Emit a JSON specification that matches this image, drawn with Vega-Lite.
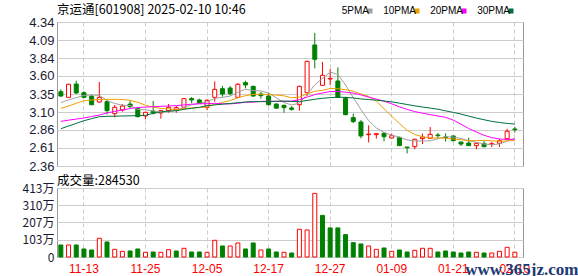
{
"$schema": "https://vega.github.io/schema/vega-lite/v6.json",
"padding": {"left": 0, "top": 3, "right": 0, "bottom": 0},
"background": "white",
"config": {
  "view": {"stroke": "#999999", "strokeWidth": 1},
  "axis": {"gridColor": "#cccccc", "gridWidth": 1, "domain": false, "ticks": false, "labelFont": "Liberation Sans", "labelOverlap": false},
  "title": {"font": "Noto Sans CJK SC", "fontWeight": "normal", "fontSize": 12.5, "color": "#000000", "anchor": "start", "frame": "group"}
},
"datasets": {"k": [
{"d":"11-08","o":3.382,"h":3.414,"l":3.313,"c":3.322,"v":720000,"k":"down","vc":"down","5PMA":3.23,"10PMA":3.153,"20PMA":2.974,"30PMA":2.873},
{"d":"11-11","o":3.304,"h":3.49,"l":3.295,"c":3.483,"v":720000,"k":"up","vc":"up","5PMA":3.27,"10PMA":3.185,"20PMA":2.99,"30PMA":2.91},
{"d":"11-12","o":3.487,"h":3.533,"l":3.35,"c":3.364,"v":720000,"k":"down","vc":"down","5PMA":3.30,"10PMA":3.222,"20PMA":3.005,"30PMA":2.946},
{"d":"11-13","o":3.368,"h":3.387,"l":3.29,"c":3.304,"v":480000,"k":"down","vc":"down","5PMA":3.33,"10PMA":3.258,"20PMA":3.02,"30PMA":2.983},
{"d":"11-14","o":3.318,"h":3.341,"l":3.194,"c":3.203,"v":420000,"k":"down","vc":"down","5PMA":3.335,"10PMA":3.268,"20PMA":3.04,"30PMA":3.011},
{"d":"11-15","o":3.24,"h":3.515,"l":3.231,"c":3.304,"v":1120000,"k":"up","vc":"up","5PMA":3.332,"10PMA":3.275,"20PMA":3.06,"30PMA":3.038},
{"d":"11-18","o":3.245,"h":3.268,"l":3.07,"c":3.121,"v":900000,"k":"down","vc":"down","5PMA":3.259,"10PMA":3.277,"20PMA":3.09,"30PMA":3.043},
{"d":"11-19","o":3.08,"h":3.199,"l":3.029,"c":3.167,"v":460000,"k":"up","vc":"up","5PMA":3.22,"10PMA":3.277,"20PMA":3.11,"30PMA":3.045},
{"d":"11-20","o":3.13,"h":3.212,"l":3.107,"c":3.185,"v":340000,"k":"up","vc":"up","5PMA":3.196,"10PMA":3.275,"20PMA":3.13,"30PMA":3.048},
{"d":"11-21","o":3.212,"h":3.254,"l":3.158,"c":3.176,"v":360000,"k":"down","vc":"down","5PMA":3.191,"10PMA":3.263,"20PMA":3.15,"30PMA":3.05},
{"d":"11-22","o":3.148,"h":3.167,"l":3.029,"c":3.038,"v":480000,"k":"down","vc":"down","5PMA":3.137,"10PMA":3.235,"20PMA":3.165,"30PMA":3.052},
{"d":"11-25","o":3.048,"h":3.107,"l":3.002,"c":3.098,"v":280000,"k":"up","vc":"up","5PMA":3.133,"10PMA":3.196,"20PMA":3.17,"30PMA":3.057},
{"d":"11-26","o":3.116,"h":3.254,"l":3.07,"c":3.089,"v":300000,"k":"down","vc":"down","5PMA":3.117,"10PMA":3.169,"20PMA":3.175,"30PMA":3.084},
{"d":"11-27","o":3.089,"h":3.13,"l":3.011,"c":3.121,"v":280000,"k":"up","vc":"up","5PMA":3.104,"10PMA":3.15,"20PMA":3.18,"30PMA":3.102},
{"d":"11-28","o":3.121,"h":3.212,"l":3.093,"c":3.167,"v":440000,"k":"up","vc":"up","5PMA":3.103,"10PMA":3.147,"20PMA":3.185,"30PMA":3.116},
{"d":"11-29","o":3.139,"h":3.185,"l":3.093,"c":3.162,"v":360000,"k":"up","vc":"down","5PMA":3.127,"10PMA":3.132,"20PMA":3.19,"30PMA":3.12},
{"d":"12-02","o":3.167,"h":3.295,"l":3.148,"c":3.286,"v":520000,"k":"up","vc":"up","5PMA":3.165,"10PMA":3.149,"20PMA":3.20,"30PMA":3.139},
{"d":"12-03","o":3.286,"h":3.309,"l":3.222,"c":3.268,"v":300000,"k":"down","vc":"down","5PMA":3.201,"10PMA":3.159,"20PMA":3.21,"30PMA":3.153},
{"d":"12-04","o":3.268,"h":3.286,"l":3.212,"c":3.222,"v":300000,"k":"down","vc":"down","5PMA":3.221,"10PMA":3.163,"20PMA":3.215,"30PMA":3.167},
{"d":"12-05","o":3.167,"h":3.277,"l":3.13,"c":3.263,"v":280000,"k":"up","vc":"up","5PMA":3.24,"10PMA":3.171,"20PMA":3.217,"30PMA":3.19},
{"d":"12-06","o":3.304,"h":3.524,"l":3.245,"c":3.414,"v":1000000,"k":"up","vc":"up","5PMA":3.291,"10PMA":3.209,"20PMA":3.222,"30PMA":3.20},
{"d":"12-09","o":3.423,"h":3.46,"l":3.313,"c":3.35,"v":660000,"k":"down","vc":"down","5PMA":3.303,"10PMA":3.234,"20PMA":3.215,"30PMA":3.21},
{"d":"12-10","o":3.432,"h":3.46,"l":3.332,"c":3.355,"v":660000,"k":"down","vc":"up","5PMA":3.321,"10PMA":3.261,"20PMA":3.214,"30PMA":3.22},
{"d":"12-11","o":3.304,"h":3.501,"l":3.295,"c":3.483,"v":840000,"k":"up","vc":"up","5PMA":3.373,"10PMA":3.297,"20PMA":3.223,"30PMA":3.23},
{"d":"12-12","o":3.506,"h":3.533,"l":3.428,"c":3.474,"v":480000,"k":"down","vc":"down","5PMA":3.415,"10PMA":3.328,"20PMA":3.237,"30PMA":3.24},
{"d":"12-13","o":3.455,"h":3.465,"l":3.313,"c":3.322,"v":840000,"k":"down","vc":"down","5PMA":3.397,"10PMA":3.344,"20PMA":3.238,"30PMA":3.245},
{"d":"12-16","o":3.35,"h":3.378,"l":3.286,"c":3.327,"v":420000,"k":"down","vc":"up","5PMA":3.392,"10PMA":3.348,"20PMA":3.248,"30PMA":3.245},
{"d":"12-17","o":3.322,"h":3.368,"l":3.19,"c":3.203,"v":480000,"k":"down","vc":"down","5PMA":3.362,"10PMA":3.342,"20PMA":3.25,"30PMA":3.245},
{"d":"12-18","o":3.212,"h":3.222,"l":3.15,"c":3.155,"v":300000,"k":"down","vc":"down","5PMA":3.297,"10PMA":3.335,"20PMA":3.249,"30PMA":3.25},
{"d":"12-19","o":3.194,"h":3.203,"l":3.093,"c":3.162,"v":280000,"k":"down","vc":"up","5PMA":3.233,"10PMA":3.325,"20PMA":3.248,"30PMA":3.253},
{"d":"12-20","o":3.158,"h":3.185,"l":3.121,"c":3.139,"v":240000,"k":"down","vc":"down","5PMA":3.199,"10PMA":3.297,"20PMA":3.253,"30PMA":3.247},
{"d":"12-23","o":3.203,"h":3.465,"l":3.121,"c":3.455,"v":1660000,"k":"up","vc":"up","5PMA":3.224,"10PMA":3.308,"20PMA":3.271,"30PMA":3.246},
{"d":"12-24","o":3.368,"h":3.808,"l":3.322,"c":3.799,"v":1620000,"k":"up","vc":"up","5PMA":3.343,"10PMA":3.352,"20PMA":3.307,"30PMA":3.261},
{"d":"12-25","o":4.024,"h":4.19,"l":3.703,"c":3.827,"v":3810000,"k":"down","vc":"up","5PMA":3.476,"10PMA":3.387,"20PMA":3.342,"30PMA":3.278},
{"d":"12-26","o":3.469,"h":3.79,"l":3.469,"c":3.607,"v":2490000,"k":"up","vc":"down","5PMA":3.565,"10PMA":3.40,"20PMA":3.364,"30PMA":3.291},
{"d":"12-27","o":3.556,"h":3.694,"l":3.474,"c":3.565,"v":1740000,"k":"up","vc":"down","5PMA":3.651,"10PMA":3.425,"20PMA":3.384,"30PMA":3.30},
{"d":"12-30","o":3.529,"h":3.717,"l":3.295,"c":3.304,"v":1740000,"k":"down","vc":"down","5PMA":3.62,"10PMA":3.422,"20PMA":3.385,"30PMA":3.306},
{"d":"12-31","o":3.29,"h":3.313,"l":3.057,"c":3.066,"v":1340000,"k":"down","vc":"down","5PMA":3.474,"10PMA":3.409,"20PMA":3.375,"30PMA":3.303},
{"d":"01-02","o":3.025,"h":3.08,"l":2.951,"c":2.97,"v":860000,"k":"down","vc":"down","5PMA":3.302,"10PMA":3.389,"20PMA":3.362,"30PMA":3.296},
{"d":"01-03","o":2.965,"h":2.993,"l":2.74,"c":2.773,"v":780000,"k":"down","vc":"down","5PMA":3.136,"10PMA":3.351,"20PMA":3.338,"30PMA":3.282},
{"d":"01-06","o":2.791,"h":2.919,"l":2.685,"c":2.8,"v":660000,"k":"up","vc":"up","5PMA":2.983,"10PMA":3.317,"20PMA":3.307,"30PMA":3.274},
{"d":"01-07","o":2.791,"h":2.809,"l":2.736,"c":2.805,"v":460000,"k":"up","vc":"up","5PMA":2.883,"10PMA":3.252,"20PMA":3.28,"30PMA":3.265},
{"d":"01-08","o":2.809,"h":2.827,"l":2.699,"c":2.763,"v":540000,"k":"down","vc":"down","5PMA":2.822,"10PMA":3.148,"20PMA":3.251,"30PMA":3.254},
{"d":"01-09","o":2.745,"h":2.809,"l":2.736,"c":2.777,"v":340000,"k":"up","vc":"up","5PMA":2.784,"10PMA":3.043,"20PMA":3.215,"30PMA":3.242},
{"d":"01-10","o":2.754,"h":2.763,"l":2.635,"c":2.64,"v":420000,"k":"down","vc":"down","5PMA":2.757,"10PMA":2.946,"20PMA":3.173,"30PMA":3.224},
{"d":"01-13","o":2.621,"h":2.621,"l":2.534,"c":2.612,"v":300000,"k":"down","vc":"down","5PMA":2.719,"10PMA":2.851,"20PMA":3.138,"30PMA":3.206},
{"d":"01-14","o":2.626,"h":2.736,"l":2.589,"c":2.727,"v":400000,"k":"up","vc":"up","5PMA":2.704,"10PMA":2.793,"20PMA":3.108,"30PMA":3.187},
{"d":"01-15","o":2.736,"h":2.805,"l":2.662,"c":2.759,"v":520000,"k":"up","vc":"up","5PMA":2.703,"10PMA":2.763,"20PMA":3.086,"30PMA":3.171},
{"d":"01-16","o":2.741,"h":2.896,"l":2.736,"c":2.795,"v":520000,"k":"up","vc":"up","5PMA":2.707,"10PMA":2.745,"20PMA":3.067,"30PMA":3.156},
{"d":"01-17","o":2.786,"h":2.814,"l":2.736,"c":2.777,"v":300000,"k":"down","vc":"down","5PMA":2.734,"10PMA":2.746,"20PMA":3.048,"30PMA":3.141},
{"d":"01-20","o":2.759,"h":2.809,"l":2.695,"c":2.75,"v":360000,"k":"down","vc":"down","5PMA":2.762,"10PMA":2.741,"20PMA":3.029,"30PMA":3.118},
{"d":"01-21","o":2.773,"h":2.777,"l":2.699,"c":2.708,"v":300000,"k":"down","vc":"down","5PMA":2.758,"10PMA":2.731,"20PMA":2.992,"30PMA":3.097},
{"d":"01-22","o":2.69,"h":2.69,"l":2.635,"c":2.662,"v":240000,"k":"down","vc":"down","5PMA":2.738,"10PMA":2.721,"20PMA":2.935,"30PMA":3.074},
{"d":"01-23","o":2.676,"h":2.75,"l":2.635,"c":2.64,"v":300000,"k":"down","vc":"down","5PMA":2.707,"10PMA":2.707,"20PMA":2.875,"30PMA":3.046},
{"d":"01-24","o":2.64,"h":2.685,"l":2.589,"c":2.672,"v":280000,"k":"up","vc":"up","5PMA":2.686,"10PMA":2.71,"20PMA":2.828,"30PMA":3.019},
{"d":"01-27","o":2.667,"h":2.708,"l":2.617,"c":2.626,"v":240000,"k":"down","vc":"down","5PMA":2.662,"10PMA":2.712,"20PMA":2.782,"30PMA":2.996},
{"d":"02-05","o":2.658,"h":2.69,"l":2.621,"c":2.667,"v":240000,"k":"up","vc":"up","5PMA":2.653,"10PMA":2.706,"20PMA":2.75,"30PMA":2.974},
{"d":"02-06","o":2.672,"h":2.731,"l":2.621,"c":2.708,"v":340000,"k":"up","vc":"up","5PMA":2.663,"10PMA":2.701,"20PMA":2.732,"30PMA":2.958},
{"d":"02-07","o":2.736,"h":2.873,"l":2.718,"c":2.837,"v":580000,"k":"up","vc":"up","5PMA":2.702,"10PMA":2.705,"20PMA":2.725,"30PMA":2.946},
{"d":"02-10","o":2.869,"h":2.901,"l":2.819,"c":2.86,"v":284530,"k":"down","vc":"up","5PMA":2.74,"10PMA":2.713,"20PMA":2.729,"30PMA":2.937}
]},
"resolve": {"scale": {"y": "independent"}},
"spacing": 0,
"vconcat": [
{
  "width": 466,
  "height": 144,
  "title": {"text": "京运通[601908] 2025-02-10 10:46", "offset": 0},
  "data": {"name": "k"},
  "layer": [
    {
      "mark": {"type": "rule", "strokeWidth": 1},
      "encoding": {
        "x": {"field": "d", "type": "ordinal", "sort": null, "bandPosition": 0.5,
              "scale": {"type": "band", "paddingInner": 0, "paddingOuter": 0.28, "align": 0},
              "axis": {"values": ["11-13","11-25","12-05","12-17","12-27","01-09","01-21","02-10"], "labels": false, "grid": true, "gridDash": [4, 3], "title": null, "minExtent": 0, "maxExtent": 0}},
        "y": {"field": "l", "type": "quantitative", "scale": {"domain": [2.36, 4.34], "zero": false, "nice": false},
              "axis": {"values": [2.36, 2.61, 2.86, 3.10, 3.35, 3.60, 3.84, 4.09, 4.34], "tickCount": 9, "format": ".2f", "grid": true, "labelFontSize": 13, "labelColor": "#1a1a33", "labelPadding": 3, "minExtent": 56, "maxExtent": 56, "title": null}},
        "y2": {"field": "h"},
        "stroke": {"field": "k", "type": "nominal", "scale": {"domain": ["up", "down"], "range": ["#ff0000", "#008000"]}, "legend": null}
      }
    },
    {
      "mark": {"type": "bar", "width": 4, "strokeWidth": 1},
      "encoding": {
        "x": {"field": "d", "type": "ordinal", "sort": null},
        "y": {"field": "o", "type": "quantitative"},
        "y2": {"field": "c"},
        "fill": {"field": "k", "type": "nominal", "scale": {"domain": ["up", "down"], "range": ["#ffffff", "#008000"]}, "legend": null},
        "stroke": {"field": "k", "type": "nominal", "scale": {"domain": ["up", "down"], "range": ["#ff0000", "#008000"]}, "legend": null}
      }
    },
    {
      "transform": [{"fold": ["5PMA", "10PMA", "20PMA", "30PMA"], "as": ["ma", "val"]}],
      "mark": {"type": "line", "strokeWidth": 1, "interpolate": "linear"},
      "encoding": {
        "x": {"field": "d", "type": "ordinal", "sort": null, "bandPosition": 0.5},
        "y": {"field": "val", "type": "quantitative"},
        "color": {"field": "ma", "type": "nominal",
                  "scale": {"domain": ["5PMA", "10PMA", "20PMA", "30PMA"], "range": ["#a0a0a0", "#f0a000", "#ff00ff", "#006f3c"]},
                  "legend": {"orient": "none", "legendX": 308, "legendY": -16, "direction": "horizontal", "title": null,
                             "symbolType": "square", "symbolSize": 4, "symbolStrokeWidth": 3, "labelFont": "Liberation Sans", "labelFontSize": 10,
                             "labelAlign": "right", "labelOffset": -6, "columnPadding": 6, "padding": 0, "labelColor": "#000000"}}
      }
    }
  ]
},
{
  "width": 466,
  "height": 69,
  "title": {"text": "成交量:284530", "offset": -5},
  "data": {"name": "k"},
  "mark": {"type": "bar", "width": 4, "strokeWidth": 1},
  "encoding": {
    "x": {"field": "d", "type": "ordinal", "sort": null,
          "scale": {"type": "band", "paddingInner": 0, "paddingOuter": 0.28, "align": 0},
          "axis": {"values": ["11-13","11-25","12-05","12-17","12-27","01-09","01-21","02-10"], "labelAngle": 0, "labelColor": "#ff0000", "labelFontSize": 12, "labelPadding": 6, "grid": true, "gridDash": [4, 3],
                   "title": "www.365jz.com", "titleFont": "Liberation Serif", "titleFontSize": 17, "titleFontWeight": "bold", "titleColor": "#1d3a73", "titleAnchor": "end", "titleAlign": "right", "titleX": 521, "titleY": 17, "titleBaseline": "alphabetic"}},
    "y": {"field": "v", "type": "quantitative", "scale": {"domain": [0, 4130000], "nice": false},
          "axis": {"values": [0, 1030000, 2070000, 3100000, 4130000], "tickCount": 5, "labelExpr": "datum.value == 0 ? '0' : round(datum.value / 10000) + '万'", "labelFont": "Noto Sans CJK SC", "labelFontSize": 12, "labelColor": "#1a1a33", "labelPadding": 3, "grid": true, "minExtent": 56, "maxExtent": 56, "title": null}},
    "fill": {"field": "vc", "type": "nominal", "scale": {"domain": ["up", "down"], "range": ["#ffffff", "#008000"]}, "legend": null},
    "stroke": {"field": "vc", "type": "nominal", "scale": {"domain": ["up", "down"], "range": ["#ff0000", "#008000"]}, "legend": null}
  }
}
]
}
